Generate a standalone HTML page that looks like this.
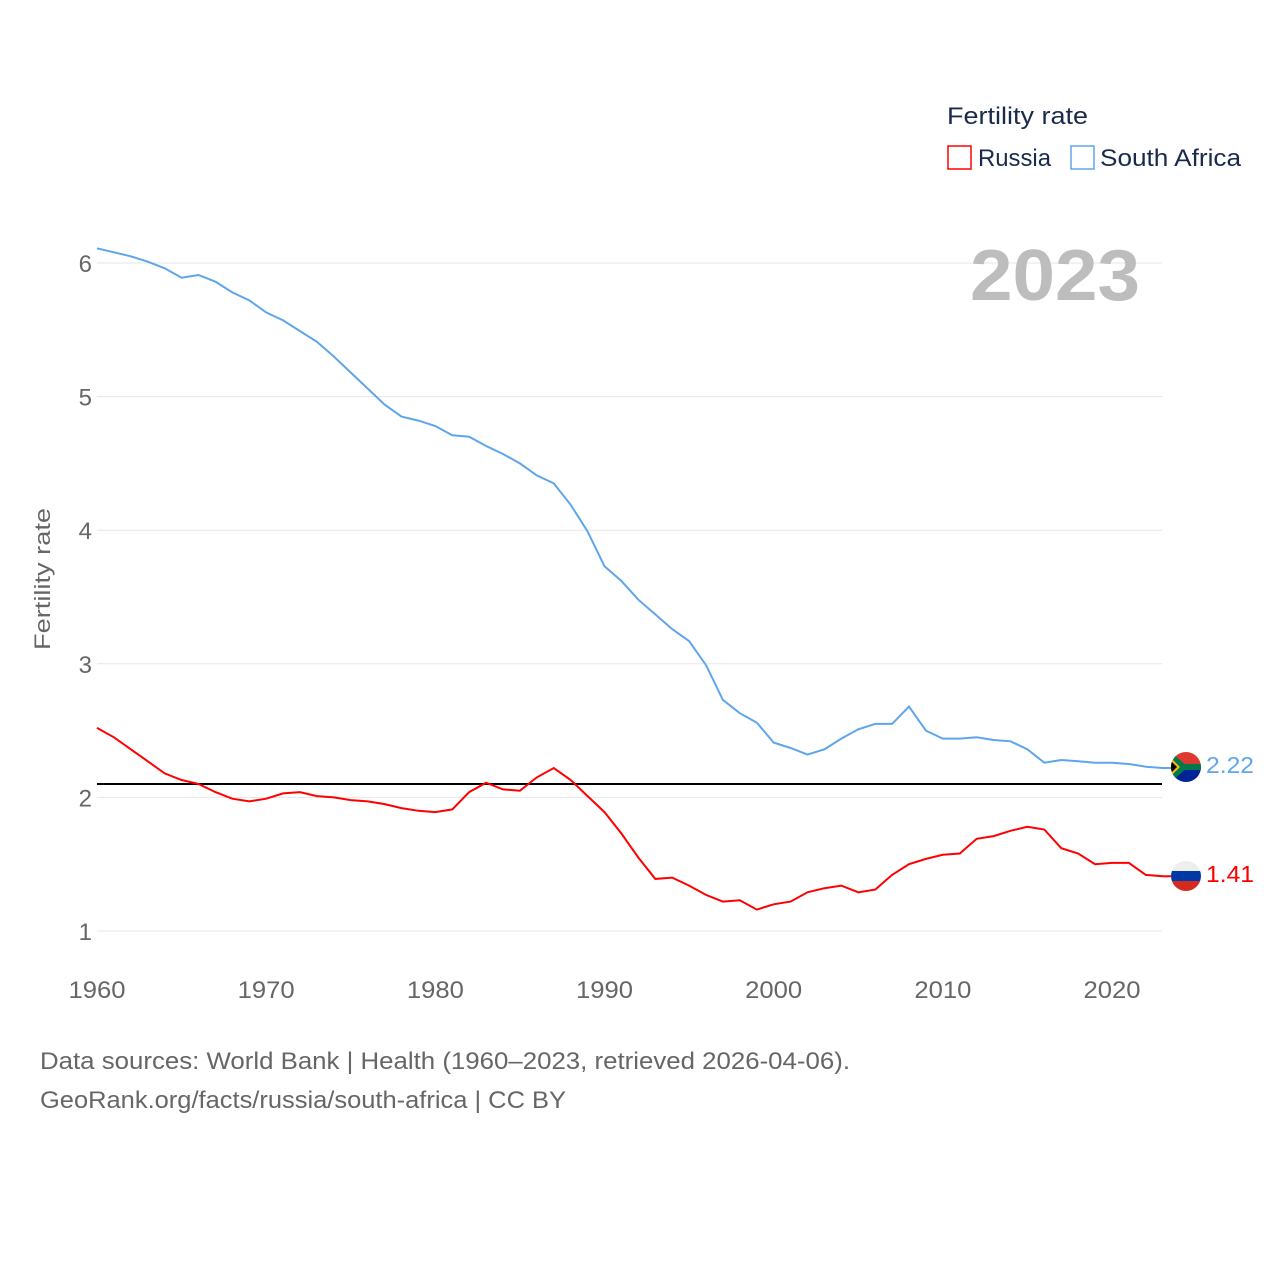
<!DOCTYPE html>
<html><head><meta charset="utf-8">
<style>
body{margin:0;background:#fff;font-family:"Liberation Sans",sans-serif;}
svg text{font-family:"Liberation Sans",sans-serif;}
</style></head>
<body>
<svg width="1280" height="1280" viewBox="0 0 1280 1280" xmlns="http://www.w3.org/2000/svg">
<defs>
<clipPath id="c1"><circle cx="1186" cy="767" r="15"/></clipPath>
<clipPath id="c2"><circle cx="1186" cy="876" r="15"/></clipPath>
</defs>
<g id="grid"></g>
<g id="yticks"></g>
<g id="xticks"></g>
<text x="50" y="579" font-size="22" fill="#666" text-anchor="middle" textLength="142" lengthAdjust="spacingAndGlyphs" transform="rotate(-90 50 579)">Fertility rate</text>
<text x="1140" y="300" font-size="72" font-weight="bold" fill="#bdbdbd" text-anchor="end" textLength="170" lengthAdjust="spacingAndGlyphs">2023</text>
<line id="ref" x1="97" x2="1162" stroke="#000" stroke-width="2"/>
<path id="pSA" fill="none" stroke="#5ea5ec" stroke-width="2"/>
<path id="pRU" fill="none" stroke="#f00" stroke-width="2"/>
<g clip-path="url(#c1)">
<rect x="1171" y="752" width="30" height="15" fill="#de3831"/>
<rect x="1171" y="767" width="30" height="15" fill="#002395"/>
<polygon points="1171,752 1188,767 1171,782" fill="#007a4d"/>
<rect x="1171" y="764" width="30" height="6" fill="#007a4d"/>
<polygon points="1171,758 1180,767 1171,776" fill="#ffb612"/>
<polygon points="1171,761 1177,767 1171,773" fill="#000"/>
</g>
<g clip-path="url(#c2)">
<rect x="1171" y="861" width="30" height="10" fill="#eee"/>
<rect x="1171" y="871" width="30" height="10" fill="#0039a6"/>
<rect x="1171" y="881" width="30" height="10" fill="#d52b1e"/>
</g>
<text x="1206" y="773" font-size="23" fill="#5ea5ec" textLength="48" lengthAdjust="spacingAndGlyphs">2.22</text>
<text x="1206" y="882" font-size="23" fill="#f00" textLength="48" lengthAdjust="spacingAndGlyphs">1.41</text>
<g>
<text x="947" y="124" font-size="24" fill="#1a2a4a" textLength="141" lengthAdjust="spacingAndGlyphs">Fertility rate</text>
<rect x="948" y="146" width="23" height="23" fill="none" stroke="#f00" stroke-width="1.5"/>
<text x="978" y="166" font-size="24" fill="#1a2a4a" textLength="73" lengthAdjust="spacingAndGlyphs">Russia</text>
<rect x="1071" y="146" width="23" height="23" fill="none" stroke="#5ea5ec" stroke-width="1.5"/>
<text x="1100" y="166" font-size="24" fill="#1a2a4a" textLength="141" lengthAdjust="spacingAndGlyphs">South Africa</text>
</g>
<text x="40" y="1069" font-size="24" fill="#666" textLength="810" lengthAdjust="spacingAndGlyphs">Data sources: World Bank | Health (1960–2023, retrieved 2026-04-06).</text>
<text x="40" y="1108" font-size="24" fill="#666" textLength="526" lengthAdjust="spacingAndGlyphs">GeoRank.org/facts/russia/south-africa | CC BY</text>
</svg>
<script>
const startYear = 1960;
const southAfrica = [6.11,6.08,6.05,6.01,5.96,5.89,5.91,5.86,5.78,5.72,5.63,5.57,5.49,5.41,5.30,5.18,5.06,4.94,4.85,4.82,4.78,4.71,4.70,4.63,4.57,4.50,4.41,4.35,4.19,3.99,3.73,3.62,3.48,3.37,3.26,3.17,2.99,2.73,2.63,2.56,2.41,2.37,2.32,2.36,2.44,2.51,2.55,2.55,2.68,2.50,2.44,2.44,2.45,2.43,2.42,2.36,2.26,2.28,2.27,2.26,2.26,2.25,2.23,2.22];
const russia = [2.52,2.45,2.36,2.27,2.18,2.13,2.10,2.04,1.99,1.97,1.99,2.03,2.04,2.01,2.00,1.98,1.97,1.95,1.92,1.90,1.89,1.91,2.04,2.11,2.06,2.05,2.15,2.22,2.13,2.01,1.89,1.73,1.55,1.39,1.40,1.34,1.27,1.22,1.23,1.16,1.20,1.22,1.29,1.32,1.34,1.29,1.31,1.42,1.50,1.54,1.57,1.58,1.69,1.71,1.75,1.78,1.76,1.62,1.58,1.50,1.51,1.51,1.42,1.41];
const yTicks = [1,2,3,4,5,6];
const xTicks = [1960,1970,1980,1990,2000,2010,2020];
const refValue = 2.1;

const X = yr => 97 + (yr - 1960) * (1015 / 60);
const Y = v => 931 - (v - 1) * 133.6;
const NS = "http://www.w3.org/2000/svg";
const grid = document.getElementById('grid');
const yt = document.getElementById('yticks');
const xt = document.getElementById('xticks');
yTicks.forEach(v => {
  const l = document.createElementNS(NS, 'line');
  l.setAttribute('x1', 97); l.setAttribute('x2', 1162);
  l.setAttribute('y1', Y(v)); l.setAttribute('y2', Y(v));
  l.setAttribute('stroke', '#e6e6e6'); l.setAttribute('stroke-width', '1');
  
  
  grid.appendChild(l);
  const t = document.createElementNS(NS, 'text');
  t.setAttribute('x', 92); t.setAttribute('y', Y(v) + 9);
  t.setAttribute('font-size', '24'); t.setAttribute('fill', '#666');
  t.setAttribute('text-anchor', 'end');
  t.textContent = v;
  
  
  yt.appendChild(t);
});
xTicks.forEach(yr => {
  const t = document.createElementNS(NS, 'text');
  t.setAttribute('x', X(yr)); t.setAttribute('y', 998);
  t.setAttribute('font-size', '24'); t.setAttribute('fill', '#666');
  t.setAttribute('text-anchor', 'middle');
  t.setAttribute('textLength', '57');
  t.setAttribute('lengthAdjust', 'spacingAndGlyphs');
  t.textContent = yr;
  
  
  xt.appendChild(t);
});
const ref = document.getElementById('ref');
ref.setAttribute('y1', Y(refValue)); ref.setAttribute('y2', Y(refValue));
const path = arr => arr.map((v, i) => (i ? 'L' : 'M') + X(startYear + i).toFixed(1) + ',' + Y(v).toFixed(1)).join(' ');
document.getElementById('pSA').setAttribute('d', path(southAfrica) + ' L1171,' + Y(southAfrica[southAfrica.length-1]).toFixed(1));
document.getElementById('pRU').setAttribute('d', path(russia) + ' L1171,' + Y(russia[russia.length-1]).toFixed(1));
</script>
</body></html>
